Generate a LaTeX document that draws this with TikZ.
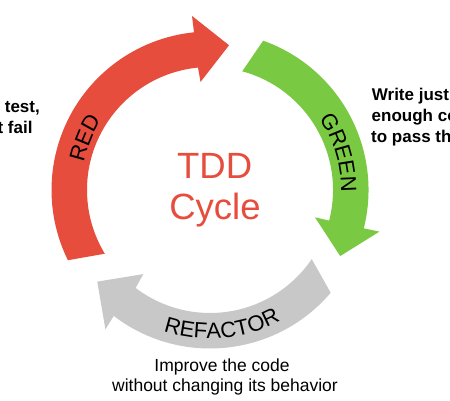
\documentclass[tikz,border=0pt]{standalone}
\usepackage{fontspec}
\setmainfont{Liberation Sans}
\usetikzlibrary{decorations.text}
\definecolor{redc}{RGB}{231,77,61}
\definecolor{greenc}{RGB}{122,201,67}
\definecolor{grayc}{RGB}{200,200,200}
\tikzset{
  sidetext/.style={font=\fontsize{17pt}{21pt}\selectfont\bfseries, inner sep=0pt},
  bottomtext/.style={font=\fontsize{17.5pt}{21pt}\selectfont, inner sep=0pt},
  titletext/.style={font=\fontsize{36.5pt}{40pt}\selectfont, text=redc, inner sep=0pt},
}
\begin{document}
\begin{tikzpicture}
\useasboundingbox (0pt,0pt) rectangle (450pt,400pt);
\clip (0pt,0pt) rectangle (450pt,400pt);
\fill[white] (0pt,0pt) rectangle (450pt,400pt);
\begin{scope}[shift={(210pt,210pt)}]
% RED arrow
\fill[redc] (206.3:158.5pt) arc[start angle=206.3, end angle=95.8, radius=158.5pt]
  -- (95.9:175pt) -- (82.5:146pt) -- (95:108.5pt) -- (95.6:123pt)
  arc[start angle=95.6, end angle=211.2, radius=123pt] -- cycle;
% GREEN arrow
\fill[greenc] (70.4:158.5pt) arc[start angle=70.4, end angle=-14.0, radius=158.5pt]
  -- (-13.8:174.5pt) -- (-26.9:146pt) -- (-14.6:108.5pt) -- (-14.4:123pt)
  arc[start angle=-14.4, end angle=74.8, radius=123pt] -- cycle;
% REFACTOR arrow
\fill[grayc] (-40.4:158.5pt) arc[start angle=-40.4, end angle=-127.4, radius=158.5pt]
  -- (-126.9:174.2pt) -- (-140.9:145.3pt) -- (-128.4:107.3pt) -- (-127.2:123pt)
  arc[start angle=-127.2, end angle=-34.2, radius=123pt] -- cycle;
% labels along arcs
\path[decorate, decoration={text along path, text align=center,
  text={|\fontsize{22pt}{22pt}\selectfont|RED}}]
  (185:129pt) arc[start angle=185, end angle=130, radius=129pt];
\path[decorate, decoration={text along path, text align=center,
  text={|\fontsize{22pt}{22pt}\selectfont|GREEN}}]
  (46.1:131pt) arc[start angle=46.1, end angle=-13.9, radius=131pt];
\path[decorate, decoration={text along path, text align=center,
  text={|\fontsize{22pt}{22pt}\selectfont|REFACTOR}}]
  (-119.9:148.5pt) arc[start angle=-119.9, end angle=-49.9, radius=148.5pt];
\end{scope}
% centre title
\node[titletext, anchor=base] (tdd) at (214.7pt,221.7pt) {TDD};
\node[titletext, anchor=base] (cycle) at (215pt,180.5pt) {Cycle};
% left text (cut by the edge)
\node[sidetext, anchor=base east] (l1) at (40pt,288pt) {test,};
\node[sidetext, anchor=base east] (l2) at (32.7pt,267pt) {t fail};
% right text (cut by the edge)
\node[sidetext, anchor=base west] (r1) at (371.7pt,300pt) {Write just};
\node[sidetext, anchor=base west] (r2) at (371.5pt,279pt) {enough co};
\node[sidetext, anchor=base west] (r3) at (371pt,258pt) {to pass th};
% bottom text
\node[bottomtext, anchor=base] (b1) at (222pt,29pt) {Improve the code};
\node[bottomtext, anchor=base] (b2) at (225pt,8.5pt) {without changing its behavior};
\end{tikzpicture}
\end{document}
